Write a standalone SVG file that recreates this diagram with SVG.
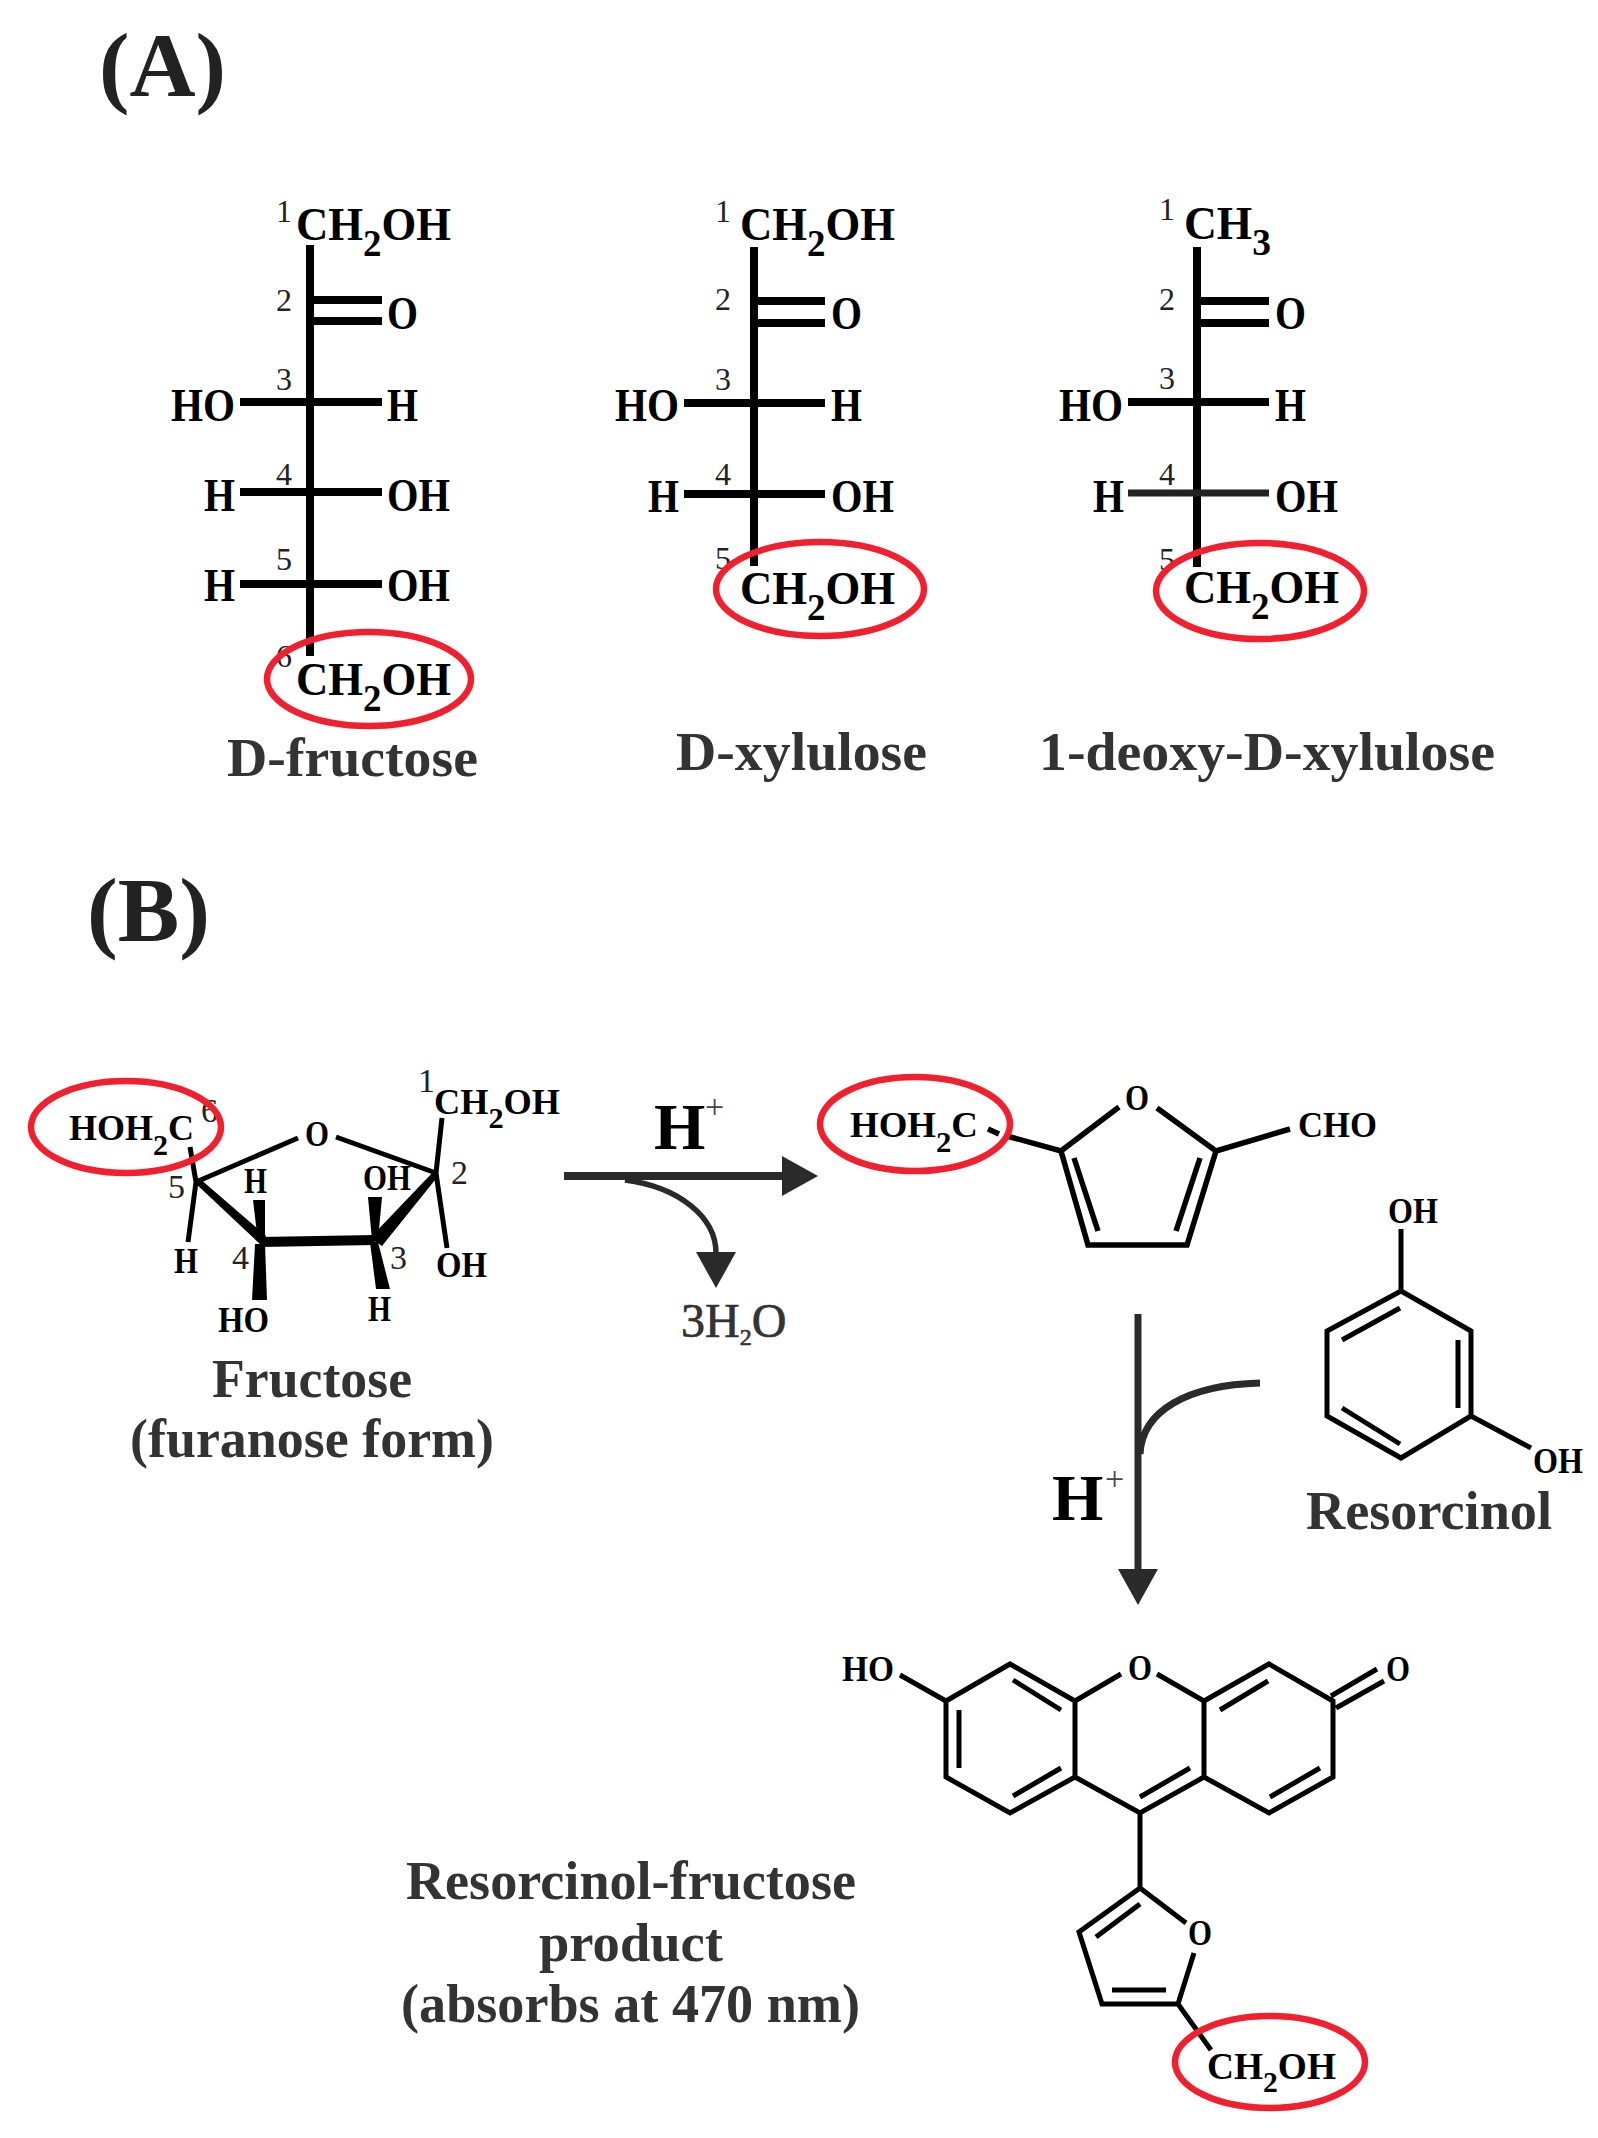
<svg xmlns="http://www.w3.org/2000/svg" width="1598" height="2138" viewBox="0 0 1598 2138">
<style>
text{font-family:"Liberation Serif","Times New Roman",serif;fill:#000}
.big{font-size:90px;font-weight:700;fill:#222}
.name{font-size:55px;font-weight:700;fill:#333}
.f{font-size:46px;font-weight:700}
.f2{font-size:38px;font-weight:700}
.g{font-size:36px;font-weight:700}
.n{font-size:32px;fill:#222}
.n2{font-size:34px;fill:#222}
.h{font-size:66px;font-weight:700}
.plus{font-size:34px;fill:#444}
.w{font-size:48px;fill:#333;stroke:#333;stroke-width:.7}
.b8{stroke:#000;stroke-width:8;fill:none}
.b5{stroke:#000;stroke-width:5.5;fill:none}
.b4{stroke:#000;stroke-width:5;fill:none}
.ring{fill:none;stroke:#f0202e;stroke-width:6.5}
.wedge{fill:#000;stroke:none}
.arrow{stroke:#2a2a2a;fill:none}
</style>
<defs>
<marker id="head" markerUnits="userSpaceOnUse" viewBox="0 0 36 40" refX="1" refY="20" markerWidth="36" markerHeight="40" orient="auto"><polygon points="0,0 36,20 0,40" fill="#2a2a2a"/></marker>
</defs>
<rect width="1598" height="2138" fill="#fff"/>
<text class="big" x="99" y="96" textLength="127" lengthAdjust="spacingAndGlyphs">(A)</text>
<text class="big" x="87" y="941" textLength="123" lengthAdjust="spacingAndGlyphs">(B)</text>

<g id="d-fructose">
<path class="b8" d="M310 245V656M311 300H382M311 321H382M240 402H382M240 492H382M240 584H382"/>
<text class="n" x="276" y="222">1</text><text class="n" x="276" y="311">2</text><text class="n" x="276" y="390">3</text><text class="n" x="276" y="485">4</text><text class="n" x="276" y="570">5</text><text class="n" x="276" y="667">6</text>
<text class="f" x="296" y="240" textLength="155" lengthAdjust="spacingAndGlyphs">CH<tspan font-size="38" dy="16">2</tspan><tspan dy="-16">OH</tspan></text>
<text class="f" x="387" y="329" textLength="31" lengthAdjust="spacingAndGlyphs">O</text>
<text class="f" x="171" y="421" textLength="64" lengthAdjust="spacingAndGlyphs">HO</text><text class="f" x="387" y="421" textLength="31" lengthAdjust="spacingAndGlyphs">H</text>
<text class="f" x="204" y="511" textLength="31" lengthAdjust="spacingAndGlyphs">H</text><text class="f" x="387" y="511" textLength="63" lengthAdjust="spacingAndGlyphs">OH</text>
<text class="f" x="204" y="601" textLength="31" lengthAdjust="spacingAndGlyphs">H</text><text class="f" x="387" y="601" textLength="63" lengthAdjust="spacingAndGlyphs">OH</text>
<text class="f" x="296" y="695" textLength="155" lengthAdjust="spacingAndGlyphs">CH<tspan font-size="38" dy="16">2</tspan><tspan dy="-16">OH</tspan></text>
<ellipse class="ring" cx="369" cy="679" rx="102" ry="47"/>
<text class="name" x="227" y="776" textLength="251" lengthAdjust="spacingAndGlyphs">D-fructose</text>
</g>

<g id="d-xylulose">
<path class="b8" d="M754 247V566M755 301H825M755 323H825M684 403H825M684 494H825"/>
<text class="n" x="715" y="222">1</text><text class="n" x="715" y="310">2</text><text class="n" x="715" y="390">3</text><text class="n" x="715" y="485">4</text><text class="n" x="715" y="569">5</text>
<text class="f" x="740" y="240" textLength="155" lengthAdjust="spacingAndGlyphs">CH<tspan font-size="38" dy="16">2</tspan><tspan dy="-16">OH</tspan></text>
<text class="f" x="831" y="329" textLength="31" lengthAdjust="spacingAndGlyphs">O</text>
<text class="f" x="615" y="421" textLength="64" lengthAdjust="spacingAndGlyphs">HO</text><text class="f" x="831" y="421" textLength="31" lengthAdjust="spacingAndGlyphs">H</text>
<text class="f" x="648" y="512" textLength="31" lengthAdjust="spacingAndGlyphs">H</text><text class="f" x="831" y="512" textLength="63" lengthAdjust="spacingAndGlyphs">OH</text>
<text class="f" x="740" y="604" textLength="155" lengthAdjust="spacingAndGlyphs">CH<tspan font-size="38" dy="16">2</tspan><tspan dy="-16">OH</tspan></text>
<ellipse class="ring" cx="820" cy="589" rx="104" ry="47"/>
<text class="name" x="676" y="770" textLength="251" lengthAdjust="spacingAndGlyphs">D-xylulose</text>
</g>

<g id="deoxy-d-xylulose">
<path class="b8" d="M1197 247V567M1198 301H1269M1198 323H1269M1128 402H1269"/>
<path d="M1128 493H1269" stroke="#222" stroke-width="7"/>
<text class="n" x="1159" y="220">1</text><text class="n" x="1159" y="310">2</text><text class="n" x="1159" y="389">3</text><text class="n" x="1159" y="485">4</text><text class="n" x="1159" y="570">5</text>
<text class="f" x="1184" y="239" textLength="87" lengthAdjust="spacingAndGlyphs">CH<tspan font-size="38" dy="16">3</tspan></text>
<text class="f" x="1275" y="329" textLength="31" lengthAdjust="spacingAndGlyphs">O</text>
<text class="f" x="1059" y="421" textLength="64" lengthAdjust="spacingAndGlyphs">HO</text><text class="f" x="1275" y="421" textLength="31" lengthAdjust="spacingAndGlyphs">H</text>
<text class="f" x="1093" y="512" textLength="31" lengthAdjust="spacingAndGlyphs">H</text><text class="f" x="1275" y="512" textLength="63" lengthAdjust="spacingAndGlyphs">OH</text>
<text class="f" x="1184" y="603" textLength="155" lengthAdjust="spacingAndGlyphs">CH<tspan font-size="38" dy="16">2</tspan><tspan dy="-16">OH</tspan></text>
<ellipse class="ring" cx="1260" cy="591" rx="104" ry="48"/>
<text class="name" x="1039" y="770" textLength="456" lengthAdjust="spacingAndGlyphs">1-deoxy-D-xylulose</text>
</g>

<g id="fructose-furanose">
<path class="b4" d="M190 1147L196 1182L188 1242M298 1138L196 1182M336 1137L436 1173M442 1118L436 1173L447 1248"/>
<polygon class="wedge" points="194,1182 199,1178 266,1236 262,1246"/>
<polygon class="wedge" points="260,1237 375,1235 375,1245 260,1247"/>
<polygon class="wedge" points="434,1171 439,1175 382,1246 370,1238"/>
<polygon class="wedge" points="253,1200 265,1200 265,1242 258,1242"/>
<polygon class="wedge" points="368,1197 382,1197 378,1240 372,1240"/>
<polygon class="wedge" points="255,1244 265,1244 267,1300 252,1300"/>
<polygon class="wedge" points="370,1242 378,1242 390,1289 376,1289"/>
<text class="g" x="69" y="1140" textLength="125" lengthAdjust="spacingAndGlyphs">HOH<tspan font-size="30" dy="15">2</tspan><tspan dy="-15">C</tspan></text>
<text class="n2" x="201" y="1122">6</text>
<text class="g" x="305" y="1146" textLength="24" lengthAdjust="spacingAndGlyphs">O</text>
<text class="n2" x="168" y="1198">5</text>
<text class="g" x="244" y="1193" textLength="23" lengthAdjust="spacingAndGlyphs">H</text>
<text class="g" x="363" y="1190" textLength="48" lengthAdjust="spacingAndGlyphs">OH</text>
<text class="g" x="434" y="1114" textLength="126" lengthAdjust="spacingAndGlyphs">CH<tspan font-size="30" dy="14">2</tspan><tspan dy="-14">OH</tspan></text>
<text class="n2" x="418" y="1092">1</text>
<text class="n2" x="451" y="1184">2</text>
<text class="n2" x="232" y="1269">4</text>
<text class="n2" x="390" y="1269">3</text>
<text class="g" x="174" y="1273" textLength="24" lengthAdjust="spacingAndGlyphs">H</text>
<text class="g" x="436" y="1277" textLength="51" lengthAdjust="spacingAndGlyphs">OH</text>
<text class="g" x="218" y="1332" textLength="51" lengthAdjust="spacingAndGlyphs">HO</text>
<text class="g" x="368" y="1321" textLength="23" lengthAdjust="spacingAndGlyphs">H</text>
<ellipse class="ring" cx="126" cy="1127" rx="95" ry="46"/>
<text class="name" x="212" y="1397" textLength="200" lengthAdjust="spacingAndGlyphs">Fructose</text>
<text class="name" x="130" y="1457" textLength="364" lengthAdjust="spacingAndGlyphs">(furanose form)</text>
</g>

<g id="hmf">
<path class="b5" d="M988 1129L999 1134M1007 1136L1061 1151L1119 1107M1157 1108L1216 1151L1187 1245H1088L1061 1151M1074 1158L1098 1231M1200 1158L1176 1231M1216 1151L1290 1129"/>
<text class="g" x="850" y="1137" textLength="128" lengthAdjust="spacingAndGlyphs">HOH<tspan font-size="30" dy="15">2</tspan><tspan dy="-15">C</tspan></text>
<text class="g" x="1125" y="1110" textLength="24" lengthAdjust="spacingAndGlyphs">O</text>
<text class="g" x="1298" y="1137" textLength="79" lengthAdjust="spacingAndGlyphs">CHO</text>
<ellipse class="ring" cx="915" cy="1124" rx="95" ry="47"/>
</g>

<g id="resorcinol">
<path class="b4" d="M1401 1229V1291L1471 1331V1416L1401 1458L1327 1416V1331L1401 1291M1342 1340L1400 1308M1458 1340V1408M1342 1408L1400 1444M1471 1416L1531 1448"/>
<text class="g" x="1388" y="1223" textLength="50" lengthAdjust="spacingAndGlyphs">OH</text>
<text class="g" x="1533" y="1473" textLength="50" lengthAdjust="spacingAndGlyphs">OH</text>
<text class="name" x="1306" y="1529" textLength="246" lengthAdjust="spacingAndGlyphs">Resorcinol</text>
</g>

<g id="product">
<path class="b4" d="M900 1675L946 1701L1010 1664L1075 1701V1777L1010 1813L946 1777V1701M1075 1701L1121 1674M1157 1674L1204 1701V1777L1140 1813L1075 1777M1204 1701L1269 1664L1333 1701V1777L1269 1813L1204 1777M1140 1813V1888L1186 1923M1194 1953L1178 2004H1102L1079 1932L1140 1888M1013 1680L1061 1710M959 1710V1768M1013 1796L1061 1768M1140 1797L1190 1768M1220 1710L1268 1681M1270 1797L1320 1768M1331 1696L1377 1669M1336 1708L1384 1681M1096 1937L1140 1904M1112 1990H1166M1178 2004L1211 2050"/>
<text class="g" x="842" y="1681" textLength="52" lengthAdjust="spacingAndGlyphs">HO</text>
<text class="g" x="1128" y="1680" textLength="24" lengthAdjust="spacingAndGlyphs">O</text>
<text class="g" x="1386" y="1681" textLength="24" lengthAdjust="spacingAndGlyphs">O</text>
<text class="g" x="1188" y="1945" textLength="24" lengthAdjust="spacingAndGlyphs">O</text>
<text class="f2" x="1207" y="2079" textLength="129" lengthAdjust="spacingAndGlyphs">CH<tspan font-size="30" dy="13">2</tspan><tspan dy="-13">OH</tspan></text>
<ellipse class="ring" cx="1270" cy="2062" rx="95" ry="46"/>
<text class="name" x="406" y="1899" textLength="450" lengthAdjust="spacingAndGlyphs">Resorcinol-fructose</text>
<text class="name" x="539" y="1961" textLength="184" lengthAdjust="spacingAndGlyphs">product</text>
<text class="name" x="401" y="2022" textLength="459" lengthAdjust="spacingAndGlyphs">(absorbs at 470 nm)</text>
</g>

<g id="connectors">
<path class="arrow" stroke-width="8" d="M564 1176H783" marker-end="url(#head)"/>
<path class="arrow" stroke-width="5.5" d="M625 1180C679 1187 716 1217 716 1253" marker-end="url(#head)"/>
<path class="arrow" stroke-width="7" d="M1138 1314V1570" marker-end="url(#head)"/>
<path class="arrow" stroke-width="7" d="M1260 1383C1187 1385 1142 1411 1140 1454"/>
</g>

<g id="labels">
<text class="h" x="654" y="1149">H</text><text class="plus" x="705" y="1118">+</text>
<text class="w" x="681" y="1337">3H<tspan font-size="24" dy="8">2</tspan><tspan dy="-8">O</tspan></text>
<text class="h" x="1052" y="1520">H</text><text class="plus" x="1105" y="1490">+</text>
</g>
</svg>
